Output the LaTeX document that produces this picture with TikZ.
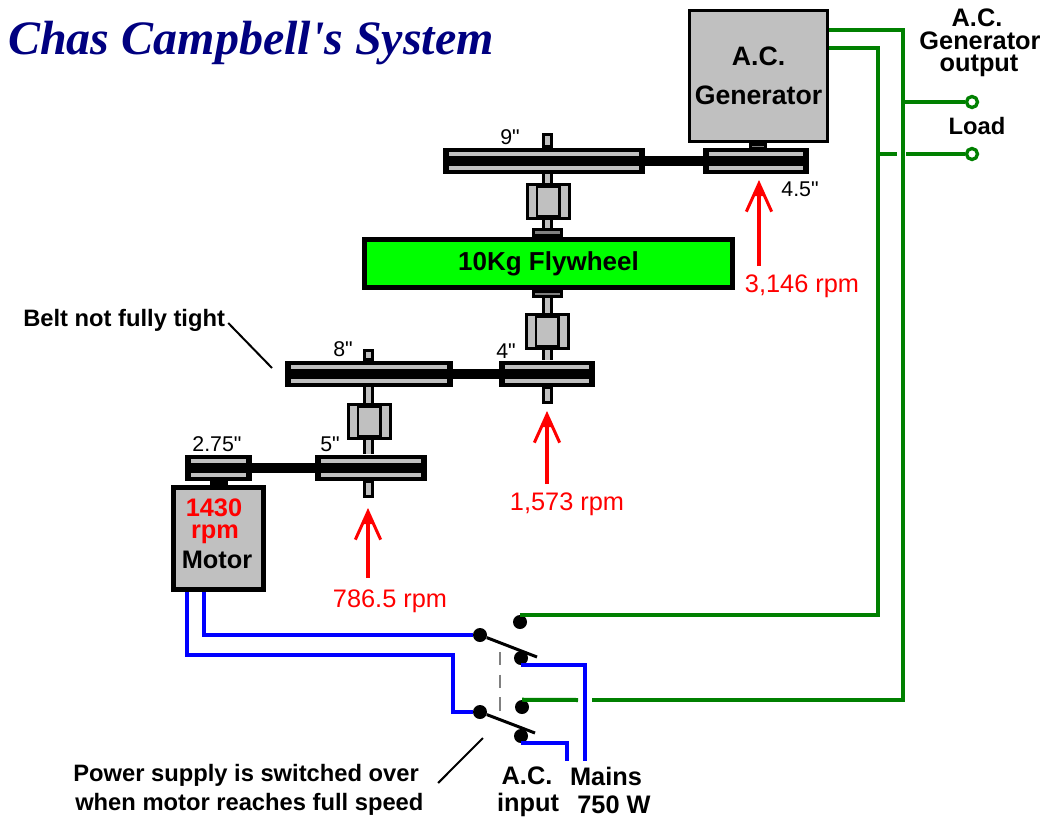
\documentclass[tikz,border=0pt]{standalone}
\usepackage{fontspec}
\setmainfont{Liberation Sans}
\newfontfamily\titlefont{Liberation Serif}
\newfontfamily\dimfont{Liberation Sans}
\usetikzlibrary{arrows.meta}
\definecolor{partgray}{HTML}{C0C0C0}
\definecolor{stubgray}{HTML}{808080}
\definecolor{wiregreen}{HTML}{008000}
\definecolor{titleblue}{HTML}{000080}
\tikzset{
  machine/.style={rectangle, draw=black, fill=partgray, inner sep=0pt, align=center},
  flywheelbox/.style={rectangle, draw=black, line width=3.75pt, fill=green, inner sep=0pt},
  pulley/.style={rectangle, fill=black, inner sep=0pt, minimum height=19.5pt,
    path picture={
      \fill[partgray] ([shift={(4.5pt,3pt)}]path picture bounding box.south west) rectangle ([shift={(-4.5pt,6pt)}]path picture bounding box.south east);
      \fill[partgray] ([shift={(4.5pt,-6pt)}]path picture bounding box.north west) rectangle ([shift={(-4.5pt,-3pt)}]path picture bounding box.north east);
    }},
  bearing/.style={rectangle, fill=black, inner sep=0pt, minimum width=33.75pt, minimum height=27.75pt,
    path picture={
      \fill[partgray] ([shift={(2.25pt,2.25pt)}]path picture bounding box.south west) rectangle ([shift={(7.5pt,25.5pt)}]path picture bounding box.south west);
      \fill[partgray] ([shift={(9pt,3.75pt)}]path picture bounding box.south west) rectangle ([shift={(24pt,24pt)}]path picture bounding box.south west);
      \fill[partgray] ([shift={(26.25pt,2.25pt)}]path picture bounding box.south west) rectangle ([shift={(31.5pt,25.5pt)}]path picture bounding box.south west);
    }},
  collar/.style={rectangle, draw=black, line width=2.25pt, fill=stubgray, inner sep=0pt},
  shaftend/.style={rectangle, draw=black, line width=2.25pt, fill=partgray, inner sep=0pt, minimum width=6pt},
  shaft/.style={line width=8.25pt, black, postaction={draw, partgray, line width=3.75pt}},
  beltline/.style={line width=7.5pt, black},
  contact/.style={circle, fill=black, inner sep=0pt, minimum size=10.5pt},
  terminal/.style={circle, draw=wiregreen, line width=2.5pt, fill=white, inner sep=0pt, minimum size=8.25pt},
  greenwire/.style={line width=3pt, wiregreen},
  bluewire/.style={line width=3pt, blue},
  blade/.style={line width=2.25pt, black},
  leader/.style={line width=1.5pt, black},
  speedarrow/.style={line width=3pt, red, -{Straight Barb[length=21pt,width=19pt,line width=2.25pt,sep=-12pt]Stealth[length=12pt,width=7.5pt,inset=0pt]}},
  dimlabel/.style={inner sep=0pt, font=\fontsize{16}{18}\selectfont\dimfont},
  rpmlabel/.style={inner sep=0pt, text=red, font=\fontsize{19}{22}\selectfont},
  boldlabel/.style={inner sep=0pt, font=\fontsize{17.8}{20}\selectfont\bfseries},
  wirelabel/.style={inner sep=0pt, font=\fontsize{19}{22}\selectfont\bfseries},
  machinelabel/.style={inner sep=0pt, anchor=base, font=\fontsize{19}{22}\selectfont\bfseries}
}
\begin{document}
\begin{tikzpicture}[x=0.75pt,y=-0.75pt]
  \useasboundingbox (0,0) rectangle (1047,818);
  \node[anchor=west, inner sep=0pt, text=titleblue, font=\fontsize{36}{40}\selectfont\titlefont\bfseries\itshape] (title) at (8,43) {Chas Campbell's System};

  \node[machine, line width=2.25pt, minimum width=103.5pt, minimum height=98.25pt, font=\fontsize{20}{29}\selectfont\bfseries] (generator) at (758.5,76) {A.C.\\Generator};
  \node[collar, minimum width=11.25pt, minimum height=3pt] (generatorstub) at (757.5,146) {};
  \node[pulley, minimum width=79.5pt] (pulleyac) at (756,161) {};
  \node[pulley, minimum width=151.5pt] (pulleynine) at (544,161) {};
  \node[shaftend, minimum height=9pt] (stubnine) at (547.5,140.5) {};
  \node[bearing] (bearingtop) at (548.5,201.5) {};
  \node[collar, minimum width=21pt, minimum height=4.5pt] (collartop) at (547.5,232.5) {};
  \node[flywheelbox, minimum width=276pt, minimum height=36pt, font=\fontsize{19.5}{22}\selectfont\bfseries] (flywheel) at (548.5,263.5) {\raisebox{-2pt}{10Kg Flywheel}};
  \node[collar, minimum width=21pt, minimum height=4pt] (collarlow) at (547.5,294) {};
  \node[bearing] (bearinglow) at (547.5,331.5) {};
  \node[pulley, minimum width=72pt] (pulleyfour) at (547,373.5) {};
  \node[shaftend, minimum height=11.25pt] (stubfour) at (547,395) {};
  \node[pulley, minimum width=126pt] (pulleyeight) at (369,373.5) {};
  \node[shaftend, minimum height=6.75pt] (stubeight) at (368.5,355) {};
  \node[bearing] (bearingmid) at (369.5,421.5) {};
  \node[pulley, minimum width=84pt] (pulleyfive) at (371,467.5) {};
  \node[shaftend, minimum height=11.25pt] (stubfive) at (368.5,489) {};
  \node[pulley, minimum width=50.25pt] (pulleysmall) at (218.5,467.5) {};
  \node[collar, minimum width=11.25pt, minimum height=1.5pt] (motorstub) at (219,482.5) {};
  \node[machine, line width=3.75pt, minimum width=67.5pt, minimum height=76.5pt] (motor) at (218.5,538.5) {};

  \draw[shaft] (stubnine |- pulleynine.south) -- (stubnine |- bearingtop.north);
  \draw[shaft] (stubnine |- bearingtop.south) -- (stubnine |- collartop.north);
  \draw[shaft] (bearinglow |- collarlow.south) -- (bearinglow.north);
  \draw[shaft] (bearinglow.south) -- (bearinglow |- pulleyfour.north);
  \draw[shaft] (stubeight |- pulleyeight.south) -- (stubeight |- bearingmid.north);
  \draw[shaft] (stubeight |- bearingmid.south) -- (stubeight |- pulleyfive.north);

  \draw[beltline] (pulleynine.east) -- (pulleyac.west);
  \draw[beltline] (pulleyeight.east) -- (pulleyfour.west);
  \draw[beltline] (pulleysmall.east) -- (pulleyfive.west);

  \node[dimlabel] (labelnine) at (510,137) {9"};
  \node[dimlabel] (labelfourfive) at (800,189) {4.5"};
  \node[dimlabel] (labeleight) at (343,349) {8"};
  \node[dimlabel] (labelfour) at (506,351) {4"};
  \node[dimlabel] (labelsmall) at (217,444) {2.75"};
  \node[dimlabel] (labelfive) at (330,444) {5"};

  \node[machinelabel, text=red] (motorrpm) at (214,516) {1430};
  \node[machinelabel, text=red] (motorrpmunit) at (215,538) {rpm};
  \node[machinelabel] (motorname) at (217,568) {Motor};

  \node[rpmlabel] (rpmac) at (802,286) {3,146 rpm};
  \node[rpmlabel] (rpmfour) at (567,504) {1,573 rpm};
  \node[rpmlabel] (rpmfive) at (390,601) {786.5 rpm};
  \coordinate (tipac) at (759,180);
  \coordinate (tailac) at (759,266);
  \coordinate (tipfour) at (547,411);
  \coordinate (tailfour) at (547,484);
  \coordinate (tipfive) at (368,508);
  \coordinate (tailfive) at (368,578);
  \draw[speedarrow] (tailac) -- (tipac);
  \draw[speedarrow] (tailfour) -- (tipfour);
  \draw[speedarrow] (tailfive) -- (tipfive);

  \node[boldlabel, anchor=west] (beltlabel) at (23,320) {Belt not fully tight};
  \coordinate (beltend) at (272,368);
  \draw[leader] ([shift={(3,3)}]beltlabel.east) -- (beltend);

  \node[contact] (polea) at (480,635) {};
  \node[contact] (poleb) at (480,712) {};
  \node[contact] (contacta) at (520,622) {};
  \node[contact] (contactb) at (521,658) {};
  \node[contact] (contactc) at (522,707) {};
  \node[contact] (contactd) at (521,736) {};
  \coordinate (bladea) at (537,657);
  \coordinate (bladeb) at (535,733);
  \draw[blade] (polea) -- (bladea);
  \draw[blade] (poleb) -- (bladeb);
  \coordinate (linktop) at (500,652);
  \coordinate (linkbot) at (500,713);
  \draw[line width=1.5pt, gray, dash pattern=on 10pt off 7pt] (linktop) -- (linkbot);

  \coordinate (motorleada) at (187,592);
  \coordinate (motorleadb) at (204,592);
  \coordinate (bluebend) at (453,655);
  \coordinate (mainsa) at (567,761);
  \coordinate (mainsb) at (585,761);
  \draw[bluewire] (motorleadb) |- (polea.west);
  \draw[bluewire] (motorleada) |- (bluebend) |- (poleb.west);
  \draw[bluewire] (contactb.south) -| (mainsb);
  \draw[bluewire] (contactd.south) -| (mainsa);

  \node[terminal] (loadtop) at (972,102) {};
  \node[terminal] (loadbot) at (972,154) {};
  \coordinate (genouta) at (829,30);
  \coordinate (genoutb) at (829,48);
  \coordinate (cornera) at (903,30);
  \coordinate (cornerb) at (878,48);
  \coordinate (gapaleft) at (578,700);
  \coordinate (gaparight) at (592,700);
  \coordinate (gapbleft) at (897,154);
  \coordinate (gapbright) at (906,154);
  \draw[greenwire] (genouta) -- (cornera) |- (gaparight);
  \draw[greenwire] (gapaleft) -- (contactc.north);
  \draw[greenwire] (genoutb) -- (cornerb) |- (contacta.north);
  \draw[greenwire] (cornera |- loadtop) -- (loadtop);
  \draw[greenwire] (cornerb |- loadbot) -- (gapbleft);
  \draw[greenwire] (gapbright) -- (loadbot);

  \node[wirelabel] (outputa) at (977,18) {A.C.};
  \node[wirelabel] (outputb) at (980,41) {Generator};
  \node[wirelabel] (outputc) at (979,66) {output};
  \node[boldlabel] (loadlabel) at (977,126) {Load};

  \node[boldlabel, anchor=west] (noteone) at (73,775) {Power supply is switched over};
  \node[boldlabel, anchor=west] (notetwo) at (75,804) {when motor reaches full speed};
  \coordinate (noteend) at (483,738);
  \draw[leader] ([shift={(19,8)}]noteone.east) -- (noteend);
  \node[wirelabel] (inputa) at (527,776) {A.C.};
  \node[wirelabel] (inputb) at (528,805) {input};
  \node[wirelabel] (mainslabel) at (606,776) {Mains};
  \node[wirelabel] (wattlabel) at (614,805) {750 W};
\end{tikzpicture}
\end{document}
